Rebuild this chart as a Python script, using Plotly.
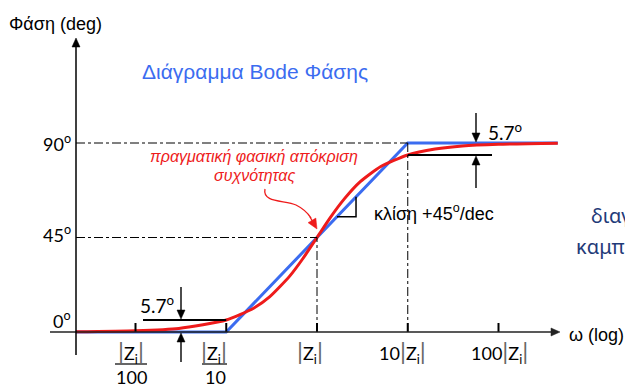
import numpy as np
import plotly.graph_objects as go

# ---- data ----
# frequency as ratio w/|Zi|, phase in degrees
asym_w = [0.0022, 0.1, 10, 450]
asym_phase = [0, 0, 90, 90]

real_w = [0.0022, 0.01, 0.03, 0.1, 0.2, 0.3, 0.5, 0.7, 1, 1.4, 2, 3, 5, 10, 20, 40, 100, 450]
real_phase = [0.1, 0.6, 1.7, 5.7, 11.3, 16.7, 26.6, 35.0, 45, 54.5, 63.4, 71.6, 78.7, 84.3, 87.1, 88.6, 89.4, 89.9]

tick_w = [0.01, 0.1, 1, 10, 100]
y_tick_vals = [0, 45, 90]
y_tick_text = ["0<sup>o</sup>", "45<sup>o</sup>", "90<sup>o</sup>"]

BLUE = "#3b6cf0"
RED = "#ee1b1b"
NAVY = "#1f3a78"

# pixel -> axis helpers (for decorations only)
PX_DEC = 90.75
X0PX = 317
Y0PX = 332
PX_DEG = 2.1


def X(px):
    return (px - X0PX) / PX_DEC


def Y(py):
    return (Y0PX - py) / PX_DEG


def PX(x):
    return X0PX + x * PX_DEC


def PY(y):
    return Y0PX - y * PX_DEG


fig = go.Figure()

fig.add_trace(go.Scatter(x=np.log10(asym_w), y=asym_phase, mode="lines",
                         line=dict(color=BLUE, width=3), hoverinfo="skip"))
fig.add_trace(go.Scatter(x=np.log10(real_w), y=real_phase, mode="lines",
                         line=dict(color=RED, width=3, shape="spline", smoothing=0.6),
                         hoverinfo="skip"))

shapes = []
ann = []


def arrow(tx, ty, sx, sy, color="black", width=1.4, head=9, half=4):
    """arrow in pixel coords: tip (tx,ty), tail (sx,sy)"""
    dx, dy = tx - sx, ty - sy
    L = (dx * dx + dy * dy) ** 0.5
    ux, uy = dx / L, dy / L
    bx, by = tx - ux * head, ty - uy * head
    shapes.append(dict(type="line", x0=X(sx), y0=Y(sy), x1=X(bx + ux), y1=Y(by + uy),
                       line=dict(color=color, width=width)))
    p1 = (bx - uy * half, by + ux * half)
    p2 = (bx + uy * half, by - ux * half)
    shapes.append(dict(type="path",
                       path=f"M{X(tx)},{Y(ty)} L{X(p1[0])},{Y(p1[1])} L{X(p2[0])},{Y(p2[1])} Z",
                       fillcolor=color, line=dict(color=color, width=0.5)))


xl = X(76)  # y-axis position
# dash-dot guides
shapes.append(dict(type="line", x0=xl, x1=np.log10(10), y0=90, y1=90,
                   line=dict(color="black", width=1, dash="dashdot")))
shapes.append(dict(type="line", x0=xl, x1=np.log10(1), y0=45, y1=45,
                   line=dict(color="black", width=1, dash="dashdot")))
shapes.append(dict(type="line", x0=np.log10(1), x1=np.log10(1), y0=0, y1=45,
                   line=dict(color="black", width=1, dash="dashdot")))
shapes.append(dict(type="line", x0=np.log10(10), x1=np.log10(10), y0=0, y1=90,
                   line=dict(color="black", width=1, dash="dashdot")))

# x-axis ticks
for w in tick_w:
    shapes.append(dict(type="line", x0=np.log10(w), x1=np.log10(w), y0=0, y1=Y(323),
                       line=dict(color="black", width=2)))

# axes with arrows
arrow(560, PY(0), 50, PY(0), color="#222", width=1.5)
arrow(76, 38, 76, 355, width=1.5)

# 5.7 deg markers (bottom)
shapes.append(dict(type="line", x0=X(143), x1=np.log10(0.1), y0=5.7, y1=5.7,
                   line=dict(color="black", width=2)))
arrow(181, PY(5.7) - 1, 181, 287)
arrow(181, PY(0) + 1, 181, 362)
# 5.7 deg markers (top)
shapes.append(dict(type="line", x0=np.log10(10), x1=X(492), y0=84.3, y1=84.3,
                   line=dict(color="black", width=2)))
arrow(476, PY(90) - 1, 476, 113)
arrow(476, PY(84.3) + 1, 476, 188)

# slope triangle on the asymptote
ta, tb = 0.22, 0.43
shapes.append(dict(type="path",
                   path=f"M{ta},{45*(ta+1)} L{tb},{45*(ta+1)} L{tb},{45*(tb+1)}",
                   line=dict(color="black", width=1.5)))

# curved red pointer
pts = [(265, 189), (262, 203), (285, 200), (296, 205), (306, 210), (309, 215), (311, 218)]
p = f"M{X(pts[0][0])},{Y(pts[0][1])} C{X(pts[1][0])},{Y(pts[1][1])} {X(pts[2][0])},{Y(pts[2][1])} {X(pts[3][0])},{Y(pts[3][1])} " \
    f"C{X(pts[4][0])},{Y(pts[4][1])} {X(pts[5][0])},{Y(pts[5][1])} {X(pts[6][0])},{Y(pts[6][1])}"
shapes.append(dict(type="path", path=p, line=dict(color=RED, width=1.3)))
arrow(317, 229, 310, 217, color=RED, width=1.3, head=10, half=4.5)

# fraction lines under |Zi|/100 and |Zi|/10
shapes.append(dict(type="line", x0=X(115), x1=X(147), y0=Y(364), y1=Y(364),
                   line=dict(color="black", width=1.2)))
shapes.append(dict(type="line", x0=X(202), x1=X(227), y0=Y(364), y1=Y(364),
                   line=dict(color="black", width=1.2)))

CAL = "Lato, Liberation Sans, sans-serif"
ARI = "Liberation Sans, Arial, sans-serif"


def txt(px, py, s, size, color="black", family=ARI, anchor="center"):
    ann.append(dict(x=X(px), y=Y(py), xref="x", yref="y", text=s, showarrow=False,
                    xanchor=anchor, yanchor="middle",
                    font=dict(size=size, color=color, family=family)))


bar = "<span style='color:#666;font-size:24px'>|</span>"
zi = f"{bar}Z<sub>i</sub>{bar}"
txt(131, 351, zi, 18, family=CAL)
txt(131, 377, "100", 18, family=CAL)
txt(214, 351, zi, 18, family=CAL)
txt(215, 377, "10", 18, family=CAL)
txt(310, 351, zi, 18, family=CAL)
txt(402, 351, "10" + zi, 18, family=CAL)
txt(499, 351, "100" + zi, 18, family=CAL)

for v, t, py in zip(y_tick_vals, y_tick_text, [320, 234, 143]):
    txt(73, py, t, 18, family=CAL, anchor="right")

txt(138, 304, "5.7<sup>o</sup>", 19, family=CAL, anchor="left")
txt(486, 131, "5.7<sup>o</sup>", 19, family=CAL, anchor="left")

txt(7, 24, "Φάση (deg)", 18, anchor="left")
txt(567, 335, "ω (log)", 18, anchor="left")
txt(140, 71, "Διάγραμμα Bode Φάσης", 21, color=BLUE, anchor="left")
txt(372, 212, "κλίση +45<sup>o</sup>/dec", 18, anchor="left")
txt(254, 156, "<i>πραγματική φασική απόκριση</i>", 16, color=RED)
txt(254, 175, "<i>συχνότητας</i>", 16, color=RED)
txt(589, 215, "διαγ", 20, color=NAVY, family="Noto Sans, sans-serif", anchor="left")
txt(574, 246, "καμπύ", 20, color=NAVY, family="Noto Sans, sans-serif", anchor="left")

fig.update_layout(
    width=625, height=387, margin=dict(l=0, r=0, t=0, b=0),
    paper_bgcolor="white", plot_bgcolor="white", showlegend=False,
    xaxis=dict(range=[X(0), X(625)], visible=False, fixedrange=True),
    yaxis=dict(range=[Y(387), Y(0)], visible=False, fixedrange=True),
    shapes=shapes, annotations=ann,
)

fig.write_html("out.html", config={"displayModeBar": False},
               post_script="document.body.style.margin='0';document.body.style.overflow='hidden';")
